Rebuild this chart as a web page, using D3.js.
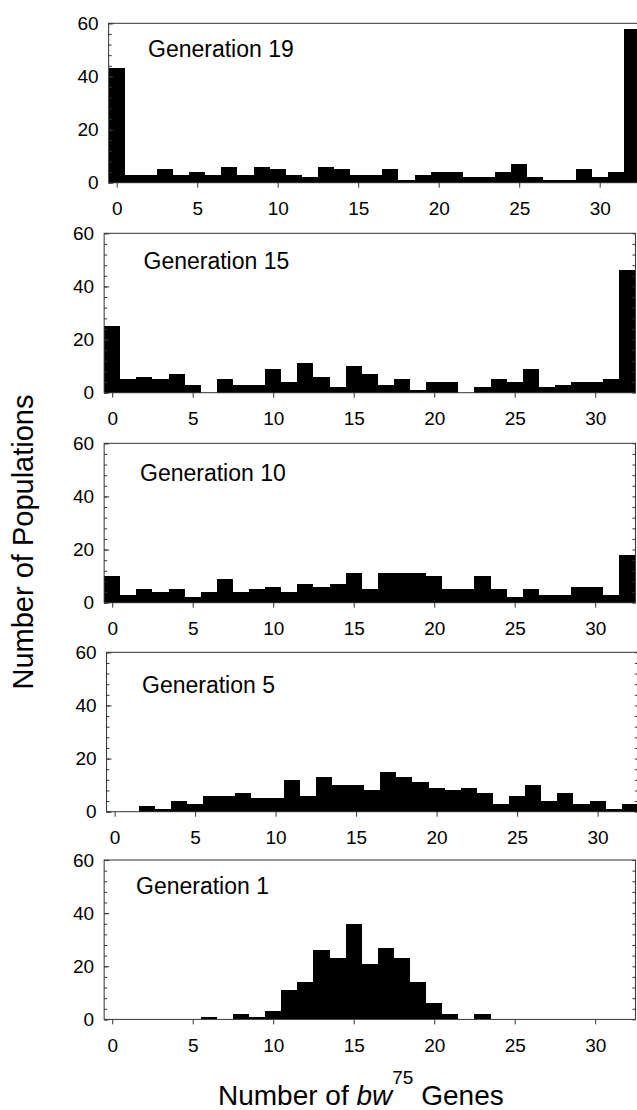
<!DOCTYPE html>
<html>
<head>
<meta charset="utf-8">
<script src="https://cdn.jsdelivr.net/npm/d3@7"></script>
<style>
  body { margin: 0; background: #fff; }
  text { font-family: "Liberation Sans", Arial, sans-serif; }
</style>
</head>
<body>
<svg id="main" width="637" height="1110"></svg>
<script>
// number of bw75 genes in a population (0..32)
var genes = d3.range(0, 33);

var generations = ["Generation 19", "Generation 15", "Generation 10", "Generation 5", "Generation 1"];

var gen19 = [43, 3, 3, 5, 3, 4, 3, 6, 3, 6, 5, 3, 2, 6, 5, 3, 3, 5, 1, 3, 4, 4, 2, 2, 4, 7, 2, 1, 1, 5, 2, 4, 58];
var gen15 = [25, 5, 6, 5, 7, 3, 0, 5, 3, 3, 9, 4, 11, 6, 2, 10, 7, 3, 5, 1, 4, 4, 0, 2, 5, 4, 9, 2, 3, 4, 4, 5, 46];
var gen10 = [10, 3, 5, 4, 5, 2, 4, 9, 4, 5, 6, 4, 7, 6, 7, 11, 5, 11, 11, 11, 10, 5, 5, 10, 5, 2, 5, 3, 3, 6, 6, 3, 18];
var gen5  = [0, 0, 2, 1, 4, 3, 6, 6, 7, 5, 5, 12, 6, 13, 10, 10, 8, 15, 13, 11, 9, 8, 9, 7, 3, 6, 10, 4, 7, 3, 4, 1, 3];
var gen1  = [0, 0, 0, 0, 0, 0, 1, 0, 2, 1, 3, 11, 14, 26, 23, 36, 21, 27, 23, 14, 6, 2, 0, 2, 0, 0, 0, 0, 0, 0, 0, 0, 0];

var series = [gen19, gen15, gen10, gen5, gen1];

var xTicks = [0, 5, 10, 15, 20, 25, 30];
var yMajor = [0, 20, 40, 60];
var yMinor = d3.range(0, 61, 4);

// layout of the five stacked panels (the scan is a little uneven)
var panelTop  = [23.3, 233.3, 443.3, 652.3, 860];
var panelZero = [116.7, 112.2, 112.2, 114.6, 112.2];
var labelPos  = [[148, 56.7], [143.5, 269.3], [140, 481], [142, 692.7], [136, 894]];
var panelH = 159.4;
var unit = 16.1;

var svg = d3.select("#main");

function drawPanel(k)
{
    var top = panelTop[k];
    var x = d3.scaleLinear()
        .domain([-0.5, 32.5])
        .range([panelZero[k] - unit/2, panelZero[k] + 32.5*unit]);
    var y = d3.scaleLinear().domain([0, 60]).range([top + panelH, top]);
    var data = series[k];

    var g = svg.append("g");

    g.selectAll("rect.bar")
        .data(genes.filter(function(i) { return data[i] > 0; }))
        .enter().append("rect")
        .attr("class", "bar")
        .attr("x", function(i) { return x(i - 0.5); })
        .attr("width", function(i) { return x(i + 0.5) - x(i - 0.5); })
        .attr("y", function(i) { return y(data[i]); })
        .attr("height", function(i) { return y(0) - y(data[i]); })
        .attr("fill", "#000")
        .attr("shape-rendering", "crispEdges");

    // frame
    g.append("rect")
        .attr("x", x(-0.5))
        .attr("y", y(60))
        .attr("width", x(32.5) - x(-0.5))
        .attr("height", y(0) - y(60))
        .attr("fill", "none")
        .attr("stroke", "#333")
        .attr("stroke-width", 1);

    // minor ticks inside, both sides
    g.append("g")
        .attr("transform", "translate(" + x(-0.5) + ",0)")
        .call(d3.axisLeft(y).tickValues(yMinor).tickSize(-3).tickFormat(""));
    g.append("g")
        .attr("transform", "translate(" + x(32.5) + ",0)")
        .call(d3.axisRight(y).tickValues(yMinor).tickSize(-3).tickFormat(""));

    // major y ticks with labels
    g.append("g")
        .attr("class", "yaxis")
        .attr("transform", "translate(" + x(-0.5) + ",0)")
        .call(d3.axisLeft(y).tickValues(yMajor).tickSize(-5).tickPadding(10));

    // x ticks
    g.append("g")
        .attr("class", "xaxis")
        .attr("transform", "translate(0," + y(0) + ")")
        .call(d3.axisBottom(x).tickValues(xTicks).tickSize(5).tickPadding(14));

    g.selectAll(".domain").remove();
    g.selectAll(".tick line").attr("stroke", "#333");
    g.selectAll(".yaxis text, .xaxis text")
        .attr("font-size", "19px")
        .attr("font-family", "'Liberation Sans', Arial, sans-serif")
        .attr("fill", "#000");

    g.append("text")
        .attr("x", labelPos[k][0])
        .attr("y", labelPos[k][1])
        .attr("font-size", "23px")
        .attr("fill", "#000")
        .text(generations[k]);
}

for (var k = 0; k < series.length; k++) {
    drawPanel(k);
}

// axis titles
svg.append("text")
    .attr("transform", "translate(33,542) rotate(-90)")
    .attr("text-anchor", "middle")
    .attr("font-size", "29px")
    .attr("fill", "#000")
    .text("Number of Populations");

var xt = svg.append("text")
    .attr("x", 218)
    .attr("y", 1105)
    .attr("font-size", "28px")
    .attr("fill", "#000");
xt.append("tspan").text("Number of ");
xt.append("tspan").attr("font-style", "italic").text("bw");
xt.append("tspan").attr("font-size", "19px").attr("dy", -21).text("75");
xt.append("tspan").attr("dy", 21).text(" Genes");
</script>
</body>
</html>
